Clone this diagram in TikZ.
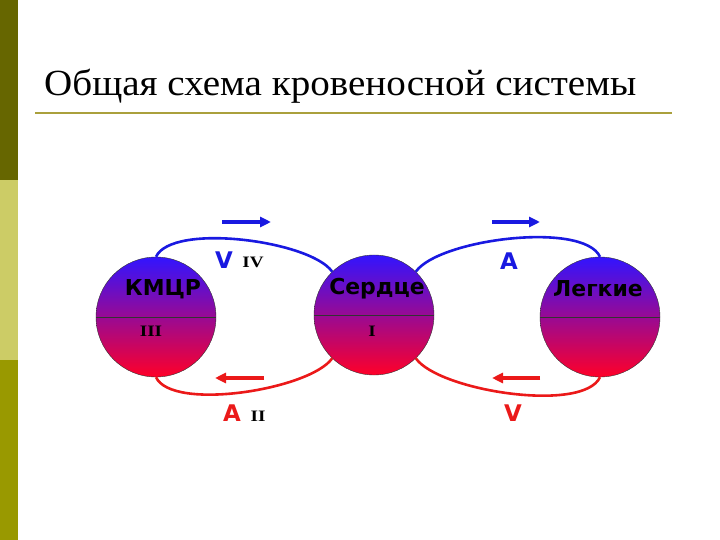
\documentclass[tikz,border=0pt]{standalone}
\usepackage{fontspec}
\setmainfont{Liberation Serif}
\newfontfamily\organfont{DejaVu Sans}
\usetikzlibrary{arrows.meta,positioning}
\definecolor{barDark}{RGB}{102,102,0}
\definecolor{barLight}{RGB}{204,204,102}
\definecolor{barMid}{RGB}{153,153,0}
\definecolor{ruleOlive}{RGB}{170,160,60}
\definecolor{vesselBlue}{RGB}{25,25,225}
\definecolor{vesselRed}{RGB}{235,25,25}
\definecolor{organTop}{RGB}{50,20,255}
\definecolor{organMid}{RGB}{150,10,210}
\definecolor{organBot}{RGB}{255,0,40}
\tikzstyle{organNode}=[draw=black!80, circle, minimum size=120bp, inner sep=0pt, top color=organTop, middle color=organMid, bottom color=organBot]
\tikzstyle{organName}=[inner sep=0pt, font=\organfont\bfseries\fontsize{22}{24}\selectfont]
\tikzstyle{romanNum}=[inner sep=0pt, xscale=1.2, font=\bfseries\fontsize{16}{18}\selectfont]
\tikzstyle{vesselLetter}=[inner sep=0pt, font=\organfont\bfseries\fontsize{23}{25}\selectfont]
\tikzstyle{blueVessel}=[line width=2.6bp, color=vesselBlue, looseness=0.55]
\tikzstyle{redVessel}=[line width=2.6bp, color=vesselRed, looseness=0.55]
\tikzstyle{flowArrow}=[line width=3.5bp, -{Triangle[length=11bp,width=10bp]}]

\begin{document}
\begin{tikzpicture}[x=1bp, y=1bp]
    \useasboundingbox (0,0) rectangle (720,-540);
    \fill[white] (0,0) rectangle (720,-540);

    % Side bar
    \fill[barDark] (0,0) rectangle (18,-180);
    \fill[barLight] (0,-180) rectangle (18,-360);
    \fill[barMid] (0,-360) rectangle (18,-540);

    % Title
    \node[anchor=base west, inner sep=0pt, xscale=1.06, font=\fontsize{37}{40}\selectfont] (title) at (44,-96) {Общая схема кровеносной системы};
    \draw[ruleOlive, line width=2bp] (35,-113) -- (672,-113);

    % Organ Nodes
    \node[organNode] (kmcr) at (156,-317) {};
    \node[organNode] (heart) at (374,-315) {};
    \node[organNode] (lungs) at (600,-317) {};
    \draw[black!80] (kmcr.west) -- (kmcr.east);
    \draw[black!80] (heart.west) -- (heart.east);
    \draw[black!80] (lungs.west) -- (lungs.east);

    % Organ Labels
    \node[organName] (kmcrName) at (163,-289) {КМЦР};
    \node[organName] (heartName) at (377,-289) {Сердце};
    \node[organName] (lungsName) at (598,-289) {Легкие};
    \node[romanNum] (kmcrNum) at (151,-331) {III};
    \node[romanNum] (heartNum) at (372,-331) {I};

    % Vessels
    \draw[blueVessel] (kmcr.north) to[out=65,in=125] (heart.134);
    \draw[blueVessel] (heart.46) to[out=55,in=115] (lungs.north);
    \draw[redVessel] (kmcr.south) to[out=-65,in=-125] (heart.226);
    \draw[redVessel] (heart.-46) to[out=-55,in=-115] (lungs.south);

    % Vessel Labels
    \node[vesselLetter, color=vesselBlue] (bigV) at (224,-260) {V};
    \node[romanNum] (bigVNum) at (253,-262) {IV};
    \node[vesselLetter, color=vesselBlue] (lungA) at (509,-261) {A};
    \node[vesselLetter, color=vesselRed] (bigA) at (232,-413) {A};
    \node[romanNum] (bigANum) at (258,-416) {II};
    \node[vesselLetter, color=vesselRed] (lungV) at (513,-413) {V};

    % Flow Arrows
    \coordinate (flowBigVTail) at (222,-222);
    \coordinate (flowBigVHead) at (271,-222);
    \coordinate (flowLungATail) at (492,-222);
    \coordinate (flowLungAHead) at (540,-222);
    \coordinate (flowBigATail) at (264,-378);
    \coordinate (flowBigAHead) at (215,-378);
    \coordinate (flowLungVTail) at (540,-378);
    \coordinate (flowLungVHead) at (492,-378);
    \draw[flowArrow, color=vesselBlue] (flowBigVTail) -- (flowBigVHead);
    \draw[flowArrow, color=vesselBlue] (flowLungATail) -- (flowLungAHead);
    \draw[flowArrow, color=vesselRed] (flowBigATail) -- (flowBigAHead);
    \draw[flowArrow, color=vesselRed] (flowLungVTail) -- (flowLungVHead);
\end{tikzpicture}
\end{document}
